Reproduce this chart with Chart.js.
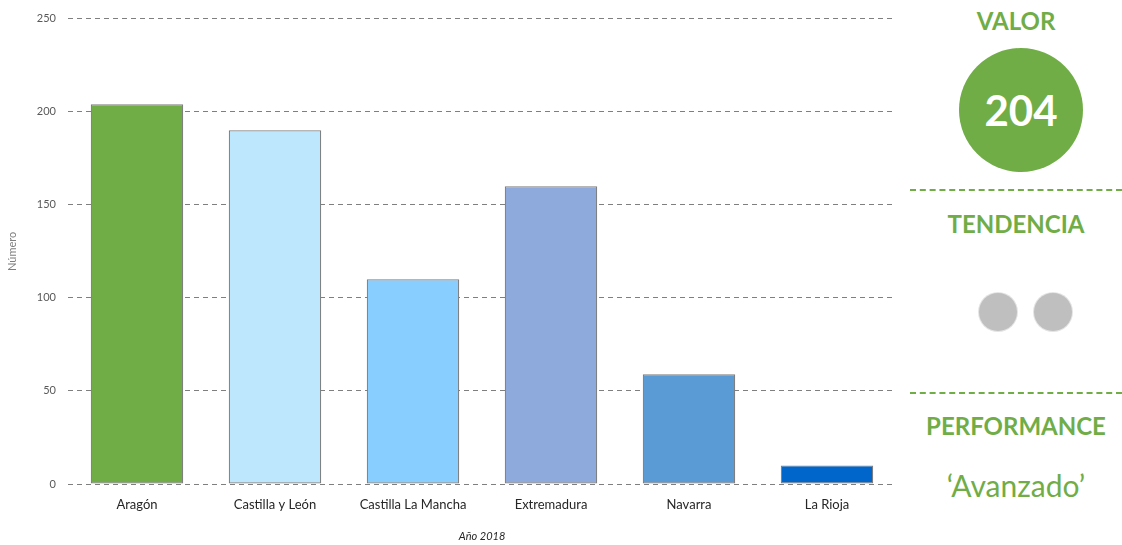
<!DOCTYPE html>
<html>
<head>
<meta charset="utf-8">
<script src="https://cdn.jsdelivr.net/npm/chart.js@4"></script>
<style>
  html, body { margin: 0; padding: 0; background: #fff; }
  #wrap { position: relative; width: 1122px; height: 545px; overflow: hidden; font-family: Lato, "Open Sans", sans-serif; }
  #chartBox { position: absolute; left: 0; top: 0; width: 900px; height: 545px; }
  #panel { position: absolute; left: 900px; top: 0; width: 222px; height: 545px; color: #70ad47; }
  .head { position: absolute; left: 10px; right: 0; text-align: center; font-weight: bold; font-size: 24px; line-height: 30px; }
  .sep { position: absolute; left: 10px; right: 0; border-top: 2px dashed #70ad47; }
  #valor { position: absolute; left: 59px; top: 48px; width: 124px; height: 124px; border-radius: 50%; background: #70ad47; color: #fff; font-weight: bold; font-size: 42px; line-height: 124px; text-align: center; }
  .dot { position: absolute; top: 293px; width: 38px; height: 38px; border-radius: 50%; background: #bfbfbf; box-shadow: 0 0 0 1px #e4e4e4; }
  #perf { position: absolute; left: 10px; right: 0; top: 466px; text-align: center; font-size: 30px; line-height: 38px; }
</style>
</head>
<body>
<div id="wrap">
  <div id="chartBox"><canvas id="barChart"></canvas></div>
  <div id="panel">
    <div class="head" style="top:6px">VALOR</div>
    <div id="valor"></div>
    <div class="sep" style="top:189px"></div>
    <div class="head" style="top:209px">TENDENCIA</div>
    <div class="dot" style="left:79px"></div>
    <div class="dot" style="left:134px"></div>
    <div class="sep" style="top:392px"></div>
    <div class="head" style="top:411px">PERFORMANCE</div>
    <div id="perf">‘Avanzado’</div>
  </div>
</div>
<script>
// Datos 2018 por comunidad autónoma
const regiones = ['Aragón', 'Castilla y León', 'Castilla La Mancha', 'Extremadura', 'Navarra', 'La Rioja'];
const valores = [204, 190, 110, 160, 59, 10];
const coloresBarra = ['#70ad47', '#bde7fc', '#88cefe', '#8eaadc', '#5b9bd5', '#0066cc'];
const ejeY = { min: 0, max: 250, paso: 50 };
const valorDestacado = valores[0];

document.getElementById('valor').textContent = valorDestacado;

const fuente = 'Lato, "Open Sans", sans-serif';
const gris = '#595959';

const ctx = document.getElementById('barChart').getContext('2d');
new Chart(ctx, {
    type: 'bar',
    data: {
        labels: regiones,
        datasets: [{
            data: valores,
            backgroundColor: coloresBarra,
            borderColor: '#7f7f7f',
            borderWidth: 1.2,
            borderSkipped: false,
            categoryPercentage: 1,
            barPercentage: 0.67
        }]
    },
    options: {
        responsive: true,
        maintainAspectRatio: false,
        animation: false,
        layout: { padding: { top: 12, right: 4, left: 0, bottom: 2 } },
        plugins: {
            legend: { display: false },
            tooltip: { enabled: false }
        },
        scales: {
            x: {
                grid: { display: false },
                border: { display: false },
                ticks: { color: '#262626', font: { family: fuente, size: 13 }, padding: 5, maxRotation: 0 },
                title: {
                    display: true,
                    text: 'Año 2018',
                    color: '#262626',
                    font: { family: fuente, size: 11, style: 'italic' },
                    padding: { top: 20, bottom: 0 }
                },
                afterFit: (scale) => { scale.height = 59; }
            },
            y: {
                min: ejeY.min,
                max: ejeY.max,
                ticks: { stepSize: ejeY.paso, color: gris, font: { family: fuente, size: 11 }, padding: 12 },
                grid: { color: '#7f7f7f', lineWidth: 1, drawTicks: false },
                border: { display: false, dash: [5, 4] },
                title: {
                    display: true,
                    text: 'Número',
                    color: '#7f7f7f',
                    font: { family: fuente, size: 11 },
                    padding: { top: 6, bottom: 0 }
                },
                afterFit: (scale) => { scale.width = 68; }
            }
        }
    }
});
</script>
</body>
</html>
